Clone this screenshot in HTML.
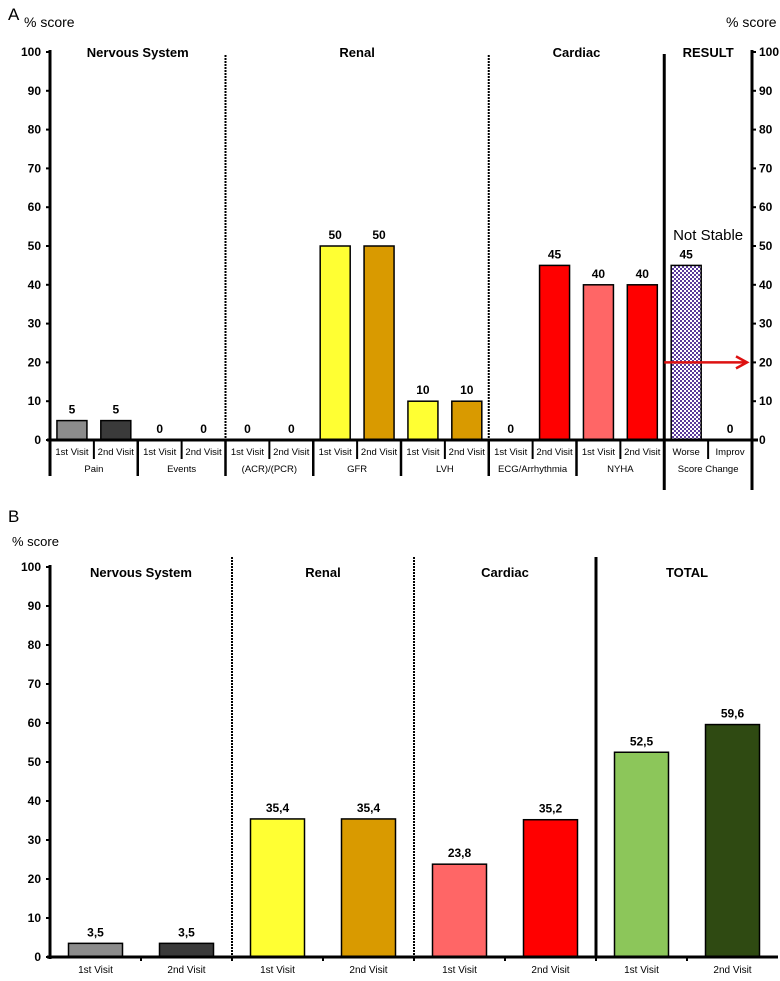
<!DOCTYPE html>
<html><head><meta charset="utf-8"><style>
body{margin:0;background:#fff;font-family:"Liberation Sans",Arial,sans-serif}
svg text{font-family:"Liberation Sans",Arial,sans-serif}
</style></head><body>
<svg id="svg" width="780" height="976" viewBox="0 0 780 976" xmlns="http://www.w3.org/2000/svg">
<defs>
<pattern id="chk" width="4" height="4" patternUnits="userSpaceOnUse"><rect width="4" height="4" fill="#fff"/><rect width="2" height="2" fill="#5a3a9a"/><rect x="2" y="2" width="2" height="2" fill="#5a3a9a"/></pattern>
</defs>
<g id="A"></g>
<g id="B"></g>
</svg>
<script>
const aValues=[5,5,0,0,0,0,50,50,10,10,0,45,40,40,45,0];
const aLabels=["1st Visit","2nd Visit","1st Visit","2nd Visit","1st Visit","2nd Visit","1st Visit","2nd Visit","1st Visit","2nd Visit","1st Visit","2nd Visit","1st Visit","2nd Visit","Worse","Improv"];
const aColors=["#8c8c8c","#3a3a3a","#fff","#fff","#fff","#fff","#ffff33","#d99a00","#ffff33","#d99a00","#fff","#ff0000","#ff6666","#ff0000","url(#chk)","#fff"];
const aSubGroups=[["Pain",0,2],["Events",2,4],["(ACR)/(PCR)",4,6],["GFR",6,8],["LVH",8,10],["ECG/Arrhythmia",10,12],["NYHA",12,14],["Score Change",14,16]];
const aSections=[["Nervous System",0,4],["Renal",4,10],["Cardiac",10,14],["RESULT",14,16]];
const bValues=[3.5,3.5,35.4,35.4,23.8,35.2,52.5,59.6];
const bLabels=["3,5","3,5","35,4","35,4","23,8","35,2","52,5","59,6"];
const bColors=["#8c8c8c","#3a3a3a","#ffff33","#d99a00","#ff6666","#ff0000","#8cc65a","#2f4a12"];
const bSections=["Nervous System","Renal","Cardiac","TOTAL"];
const yTicks=[0,10,20,30,40,50,60,70,80,90,100];

const NS="http://www.w3.org/2000/svg";
function mk(p,tag,at,txt){const e=document.createElementNS(NS,tag);for(const k in at)e.setAttribute(k,at[k]);if(txt!=null)e.textContent=txt;p.appendChild(e);return e;}

// Chart A
(function(){
 const g=document.getElementById('A');
 const x0=50,x1=752,y0=440,y100=52,n=aValues.length,sw=(x1-x0)/n;
 const Y=v=>y0-(y0-y100)*v/100, X=i=>x0+sw*i;
 let t=mk(g,'text',{x:8,y:20,'font-size':17},'A');
 t=mk(g,'text',{x:24,y:27,'font-size':14},'% score');
 t=mk(g,'text',{x:726,y:27,'font-size':14},'% score');
 aSections.forEach((s,k)=>{
  const e=mk(g,'text',{x:(X(s[1])+X(s[2]))/2,y:57,'font-size':13,'font-weight':'bold','text-anchor':'middle'},s[0]);
  
  if(k>0){const l=mk(g,'line',{x1:X(s[1]),x2:X(s[1]),y1:k==3?y100+2:y100+3,y2:k==3?490:475,stroke:'#000','stroke-width':k==3?3:2,'stroke-dasharray':k==3?'none':'2,1'});
   }
 });
 aValues.forEach((v,i)=>{
  const cx=X(i)+sw/2;
  if(v>0){const r=mk(g,'rect',{x:cx-15,y:Y(v),width:30,height:y0-Y(v),fill:aColors[i],stroke:'#000','stroke-width':1.5});
   }
  const vl=mk(g,'text',{x:cx,y:Y(v)-7,'font-size':12,'font-weight':'bold','text-anchor':'middle'},String(v));
  
  const xl=mk(g,'text',{x:cx,y:455,'font-size':9.5,'text-anchor':'middle'},aLabels[i]);
  
  if(i>0){const l=mk(g,'line',{x1:X(i),x2:X(i),y1:y0,y2:459,stroke:'#000','stroke-width':2});}
 });
 aSubGroups.forEach(s=>{
  const e=mk(g,'text',{x:(X(s[1])+X(s[2]))/2,y:472,'font-size':9.5,'text-anchor':'middle'},s[0]);
  
  if(s[1]>0){const l=mk(g,'line',{x1:X(s[1]),x2:X(s[1]),y1:y0,y2:476,stroke:'#000','stroke-width':2.5});}
 });
 let l=mk(g,'line',{x1:x0,x2:x0,y1:y100-2,y2:476,stroke:'#000','stroke-width':3});
 l=mk(g,'line',{x1:x1,x2:x1,y1:y100-2,y2:490,stroke:'#000','stroke-width':3});
 l=mk(g,'line',{x1:x0-3,x2:x1+6,y1:y0,y2:y0,stroke:'#000','stroke-width':3});
 yTicks.forEach(v=>{
  let a=mk(g,'line',{x1:x0-4,x2:x0,y1:Y(v),y2:Y(v),stroke:'#000','stroke-width':2});
  a=mk(g,'line',{x1:x1,x2:x1+4,y1:Y(v),y2:Y(v),stroke:'#000','stroke-width':2});
  a=mk(g,'text',{x:x0-9,y:Y(v)+4,'font-size':12,'font-weight':'bold','text-anchor':'end'},String(v));
  a=mk(g,'text',{x:x1+7,y:Y(v)+4,'font-size':12,'font-weight':'bold'},String(v));
 });
 t=mk(g,'text',{x:X(15),y:Y(51.5),'font-size':15,'text-anchor':'middle'},'Not Stable');
 l=mk(g,'line',{x1:X(14),x2:x1-6,y1:Y(20),y2:Y(20),stroke:'#dd1111','stroke-width':2.5});
 const p=mk(g,'polyline',{points:`${x1-16},${Y(20)-6} ${x1-5},${Y(20)} ${x1-16},${Y(20)+6}`,fill:'none',stroke:'#dd1111','stroke-width':2.5});
})();

// Chart B
(function(){
 const g=document.getElementById('B');
 const x0=50,x1=778,y0=957,y100=567,n=bValues.length,sw=(x1-x0)/n;
 const Y=v=>y0-(y0-y100)*v/100, X=i=>x0+sw*i;
 let t=mk(g,'text',{x:8,y:522,'font-size':17},'B');
 t=mk(g,'text',{x:12,y:546,'font-size':13},'% score');
 bSections.forEach((s,k)=>{
  const e=mk(g,'text',{x:X(2*k)+sw,y:577,'font-size':13,'font-weight':'bold','text-anchor':'middle'},s);
  
  if(k>0){const l=mk(g,'line',{x1:X(2*k),x2:X(2*k),y1:557,y2:y0,stroke:'#000','stroke-width':k==3?3:2,'stroke-dasharray':k==3?'none':'2,1'});
   }
 });
 bValues.forEach((v,i)=>{
  const cx=X(i)+sw/2;
  const r=mk(g,'rect',{x:cx-27,y:Y(v),width:54,height:y0-Y(v),fill:bColors[i],stroke:'#000','stroke-width':1.5});
  
  const vl=mk(g,'text',{x:cx,y:Y(v)-7,'font-size':12,'font-weight':'bold','text-anchor':'middle'},bLabels[i]);
  
  const xl=mk(g,'text',{x:cx,y:973,'font-size':10,'text-anchor':'middle'},i%2?'2nd Visit':'1st Visit');
  
  if(i>0){const l=mk(g,'line',{x1:X(i),x2:X(i),y1:y0,y2:y0+4,stroke:'#000','stroke-width':2});}
 });
 let l=mk(g,'line',{x1:x0,x2:x0,y1:y100-2,y2:y0+2,stroke:'#000','stroke-width':3});
 l=mk(g,'line',{x1:x0-3,x2:x1,y1:y0,y2:y0,stroke:'#000','stroke-width':3});
 yTicks.forEach(v=>{
  let a=mk(g,'line',{x1:x0-4,x2:x0,y1:Y(v),y2:Y(v),stroke:'#000','stroke-width':2});
  a=mk(g,'text',{x:x0-9,y:Y(v)+4,'font-size':12,'font-weight':'bold','text-anchor':'end'},String(v));
 });
})();
</script>
</body></html>
